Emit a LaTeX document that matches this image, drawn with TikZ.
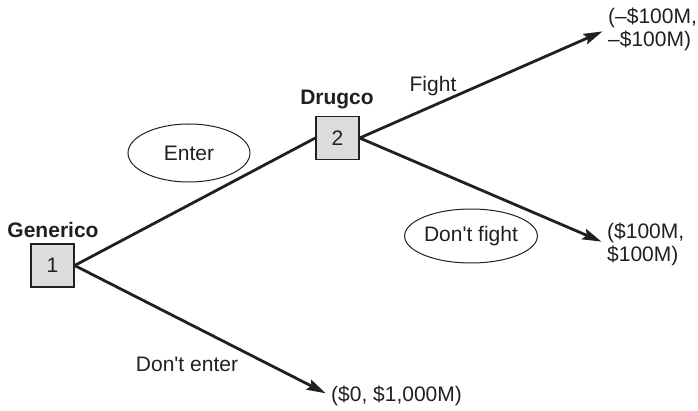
\documentclass[tikz,border=0pt]{standalone}
\usepackage{fontspec}
\setmainfont{Liberation Sans}
\usetikzlibrary{arrows.meta,shapes.geometric}
\definecolor{gtink}{HTML}{231F20}
\definecolor{gtbox}{HTML}{DCDCDC}
\tikzset{every node/.style={font=\fontsize{21}{23}\selectfont,text=gtink},
  player/.style={draw=gtink,fill=gtbox,line width=1.3pt,minimum size=43pt,inner sep=0pt},
  pname/.style={font=\fontsize{21}{23}\selectfont\bfseries},
  oval/.style={ellipse,draw=gtink,line width=1pt,inner sep=0pt}}

\begin{document}
\begin{tikzpicture}[x=1pt,y=-1pt,
    payoff/.style={anchor=west,align=left,inner sep=0pt},
    move/.style={draw=gtink,line width=2.8pt},
    arr/.style={move,shorten >=6pt,-{Stealth[length=19pt,width=11pt,inset=3pt]}}]
  \path[use as bounding box] (0,0) rectangle (698,411);

  % decision nodes
  \node[player] (gen) at (52.5,265.5) {1};
  \node[pname] (genname) at (53,230) {Generico};
  \node[player] (drug) at (337.5,138) {2};
  \node[pname] (drugname) at (337,100) {Drugco};

  % outcomes
  \node[payoff] (fightpay) at (608,29) {(--\$100M,\\--\$100M)};
  \node[payoff] (peacepay) at (607,244) {(\$100M,\\\$100M)};
  \node[payoff] (outpay) at (331,396) {(\$0, \$1,000M)};

  % moves
  \draw[move] (gen.east) -- (drug.west);
  \draw[arr] (drug.east) -- (fightpay.west);
  \draw[arr] (drug.east) -- (peacepay.west);
  \draw[arr] (gen.east) -- (outpay.west);

  % move labels
  \node[oval,minimum width=122pt,minimum height=58pt] (enter) at (189,153) {Enter};
  \node (fight) at (433,86) {Fight};
  \node[oval,minimum width=122pt,minimum height=54pt] (nofight) at (471,236)
    {Don\textquotesingle t fight};
  \node (noenter) at (187,364) {Don\textquotesingle t enter};
\end{tikzpicture}
\end{document}
